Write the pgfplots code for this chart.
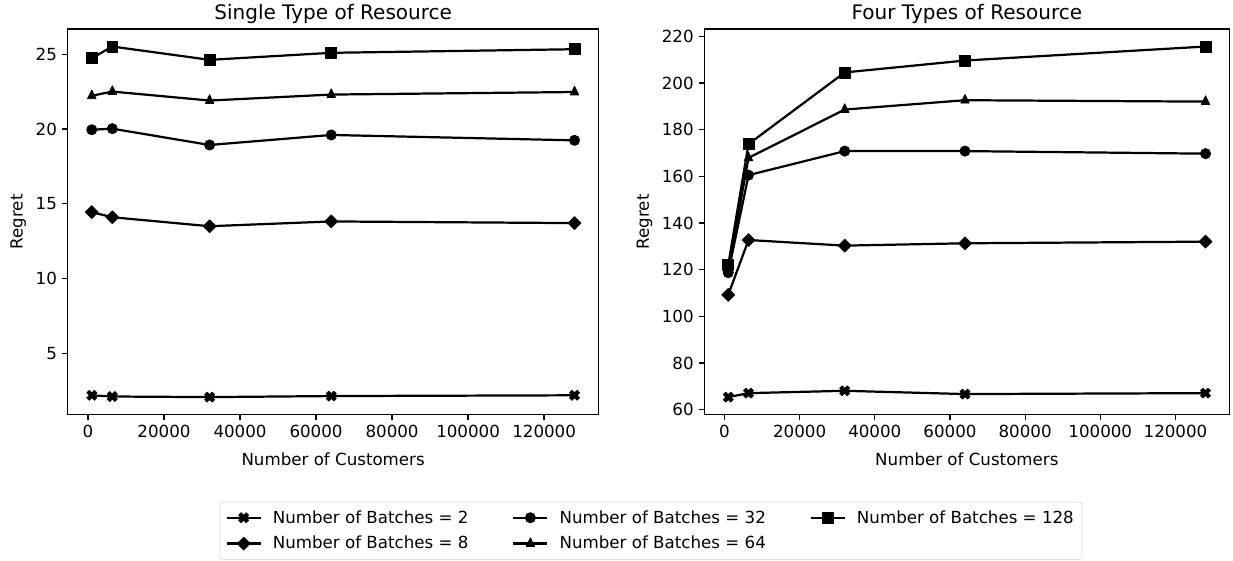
\documentclass[border=0pt]{standalone}
\usepackage{fontspec}
\setmainfont{DejaVu Sans}
\usepackage{pgfplots}
\usepackage{pgfplotstable}
\pgfplotsset{compat=1.18}

% filled X marker like matplotlib's 'X'
\pgfdeclareplotmark{Xf}{%
  \pgftransformrotate{45}%
  \pgfpathmoveto{\pgfqpoint{\pgfplotmarksize}{0.333\pgfplotmarksize}}%
  \pgfpathlineto{\pgfqpoint{0.333\pgfplotmarksize}{0.333\pgfplotmarksize}}%
  \pgfpathlineto{\pgfqpoint{0.333\pgfplotmarksize}{\pgfplotmarksize}}%
  \pgfpathlineto{\pgfqpoint{-0.333\pgfplotmarksize}{\pgfplotmarksize}}%
  \pgfpathlineto{\pgfqpoint{-0.333\pgfplotmarksize}{0.333\pgfplotmarksize}}%
  \pgfpathlineto{\pgfqpoint{-\pgfplotmarksize}{0.333\pgfplotmarksize}}%
  \pgfpathlineto{\pgfqpoint{-\pgfplotmarksize}{-0.333\pgfplotmarksize}}%
  \pgfpathlineto{\pgfqpoint{-0.333\pgfplotmarksize}{-0.333\pgfplotmarksize}}%
  \pgfpathlineto{\pgfqpoint{-0.333\pgfplotmarksize}{-\pgfplotmarksize}}%
  \pgfpathlineto{\pgfqpoint{0.333\pgfplotmarksize}{-\pgfplotmarksize}}%
  \pgfpathlineto{\pgfqpoint{0.333\pgfplotmarksize}{-0.333\pgfplotmarksize}}%
  \pgfpathlineto{\pgfqpoint{\pgfplotmarksize}{-0.333\pgfplotmarksize}}%
  \pgfpathclose
  \pgfusepathqfillstroke
}

% values read off the reference
\pgfplotstableread{
x      b2    b8     b32    b64    b128
1000   2.20  14.44  19.95  22.22  24.73
6400   2.12  14.10  20.02  22.50  25.51
32000  2.08  13.50  18.93  21.90  24.62
64000  2.15  13.82  19.60  22.30  25.09
128000 2.20  13.71  19.24  22.47  25.33
}\single
\pgfplotstableread{
x      b2    b8     b32    b64    b128
1000   65.4  109.2  118.7  120.0  122.0
6400   67.1  132.7  160.5  167.9  173.8
32000  68.1  130.3  170.8  188.6  204.5
64000  66.7  131.3  170.8  192.6  209.6
128000 67.1  132.0  169.7  192.0  215.6
}\four

\pgfplotsset{
  mpl/.style={
    scale only axis, height=277.6pt,
    xmin=-5350, xmax=134350,
    xtick={0,20000,40000,60000,80000,100000,120000},
    scaled x ticks=false,
    xticklabel style={/pgf/number format/fixed, /pgf/number format/1000 sep={}},
    /pgf/number format/assume math mode=true,
    tick align=outside, tick pos=left, major tick length=4.2pt,
    every tick/.style={black, line width=0.9pt},
    axis line style={line width=0.9pt},
    xlabel={Number of Customers}, ylabel={Regret},
    tick label style={font=\fontsize{12}{14}\selectfont},
    label style={font=\fontsize{12}{14}\selectfont},
    every axis title/.style={at={(0.5,1)}, anchor=base, yshift=6.5pt,
      font=\fontsize{14.4}{17}\selectfont},
    every axis x label/.style={at={(0.5,0)}, anchor=base, yshift=-36.4pt,
      font=\fontsize{12}{14}\selectfont},
    every axis plot/.append style={black, line width=1.6pt, line join=round},
    legend image code/.code={\draw[mark repeat=2,mark phase=2,##1] plot coordinates {(0pt,0pt)(12.25pt,0pt)(24.5pt,0pt)};},
  },
  s2/.style={mark=Xf, mark size=3.9pt, mark options={line width=0.4pt}},
  s8/.style={mark=square*, mark size=3.3pt, mark options={rotate=45, line width=0.5pt}},
  s32/.style={mark=*, mark size=3.7pt, mark options={line width=0.5pt}},
  s64/.style={mark=triangle*, mark size=4.2pt, mark options={xscale=0.85, line width=0.5pt}},
  s128/.style={mark=square*, mark size=3.9pt, mark options={line width=0.5pt}},
}

\begin{document}
\begin{tikzpicture}
\path[use as bounding box] (-48.7pt,-104.8pt) rectangle (839.0pt,298.5pt);

\begin{axis}[mpl, width=382.3pt,
  title={Single Type of Resource},
  ymin=0.91, ymax=26.68, ytick={5,10,15,20,25}]
\addplot[s2]   table[x=x, y=b2]   {\single};
\addplot[s8]   table[x=x, y=b8]   {\single};
\addplot[s32]  table[x=x, y=b32]  {\single};
\addplot[s64]  table[x=x, y=b64]  {\single};
\addplot[s128] table[x=x, y=b128] {\single};
\end{axis}

\begin{axis}[mpl, width=378pt, at={(458.4pt,0pt)},
  title={Four Types of Resource},
  ymin=57.9, ymax=223.1, ytick={60,80,...,220},
  legend columns=3,
  legend style={at={(-0.1015,-0.301)}, anchor=center,
    draw=black!20, rounded corners=2pt, inner xsep=4pt, inner ysep=4pt,
    font=\fontsize{12}{14}\selectfont,
    /tikz/every odd column/.append style={column sep=6pt},
    /tikz/every even column/.append style={column sep=29.5pt},
    /tikz/row sep=4pt}]
\addplot[s2]   table[x=x, y=b2]   {\four};
\addlegendentry{Number of Batches = 2}
\addplot[s32]  table[x=x, y=b32]  {\four};
\addlegendentry{Number of Batches = 32}
\addplot[s128] table[x=x, y=b128] {\four};
\addlegendentry{Number of Batches = 128}
\addplot[s8]   table[x=x, y=b8]   {\four};
\addlegendentry{Number of Batches = 8}
\addplot[s64]  table[x=x, y=b64]  {\four};
\addlegendentry{Number of Batches = 64}
\end{axis}
\end{tikzpicture}
\end{document}
